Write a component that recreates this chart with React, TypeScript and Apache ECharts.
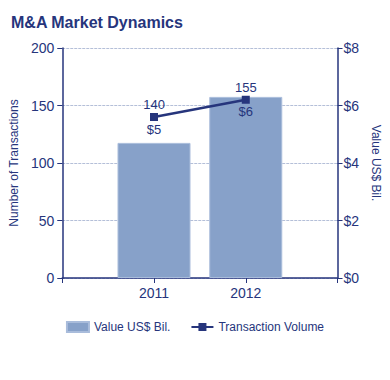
import React, { useEffect, useRef } from "react";
import * as echarts from "echarts";

const years = ["2011", "2012"];
const valueBil = [4.7, 6.3];
const transactions = [140, 155];
const leftTicks = [0, 50, 100, 150, 200];

const NAVY = "#26357c";
const BAR = "#87a1c9";

export default function App() {
  const ref = useRef<HTMLDivElement>(null);
  useEffect(() => {
    document.body.style.margin = "0";
    if (!ref.current) return;
    const chart = echarts.init(ref.current, undefined, { renderer: "svg" });
    const cats = ["", ...years, ""];
    const barData = [null, ...valueBil, null];
    const lineData = [null, ...transactions, null];
    chart.setOption({
      animation: false,
      textStyle: { fontFamily: "Liberation Sans, Arial, sans-serif" },
      title: {
        text: "M&A Market Dynamics",
        left: 6,
        top: 9,
        textStyle: { color: NAVY, fontSize: 16, fontWeight: "bold", fontFamily: "Liberation Sans, Arial, sans-serif" },
      },
      grid: { left: 60, right: 52, top: 48, bottom: 102 },
      legend: {
        bottom: 42,
        left: "center",
        itemGap: 20,
        itemWidth: 22,
        itemHeight: 10,
        textStyle: { color: NAVY, fontSize: 12 },
        data: [
          { name: "Value US$ Bil.", icon: "rect" },
          { name: "Transaction Volume" },
        ],
      },
      xAxis: {
        type: "category",
        data: cats,
        boundaryGap: false,
        axisLine: { lineStyle: { color: NAVY, width: 1.5 } },
        axisTick: { show: true, length: 5, inside: false, lineStyle: { color: NAVY } },
        axisLabel: { color: NAVY, fontSize: 14, margin: 8 },
        splitLine: { show: false },
      },
      yAxis: [
        {
          type: "value",
          min: leftTicks[0],
          max: leftTicks[leftTicks.length - 1],
          interval: 50,
          name: "Number of Transactions",
          nameLocation: "middle",
          nameGap: 34,
          nameTextStyle: { color: NAVY, fontSize: 12 },
          axisLine: { show: true, lineStyle: { color: NAVY, width: 1.5 } },
          axisTick: { show: true, length: 5, lineStyle: { color: NAVY } },
          axisLabel: { color: NAVY, fontSize: 14, margin: 8 },
          splitLine: { show: true, lineStyle: { color: "#b4bfd8", type: [3, 1], width: 1 } },
        },
        {
          type: "value",
          min: 0,
          max: 8,
          interval: 2,
          position: "right",
          name: "Value US$ Bil.",
          nameLocation: "middle",
          nameRotate: -90,
          nameGap: 32,
          nameTextStyle: { color: NAVY, fontSize: 12 },
          axisLine: { show: true, lineStyle: { color: NAVY, width: 1.5 } },
          axisTick: { show: true, length: 5, lineStyle: { color: NAVY } },
          axisLabel: { color: NAVY, fontSize: 14, margin: 6, formatter: (v: number) => "$" + v },
          splitLine: { show: false },
        },
      ],
      series: [
        {
          name: "Value US$ Bil.",
          type: "bar",
          yAxisIndex: 1,
          data: barData,
          barWidth: 73,
          itemStyle: { color: BAR, borderColor: "#a9bcdb", borderWidth: 1 },
        },
        {
          name: "Transaction Volume",
          type: "line",
          yAxisIndex: 0,
          data: lineData,
          connectNulls: true,
          symbol: "rect",
          symbolSize: 8,
          lineStyle: { color: NAVY, width: 2.5 },
          itemStyle: { color: NAVY },
          label: { show: true, position: "top", distance: 2, color: NAVY, fontSize: 13 },
        },
        {
          name: "valueLabels",
          type: "line",
          yAxisIndex: 0,
          data: lineData,
          connectNulls: true,
          symbol: "circle",
          symbolSize: 1,
          showSymbol: true,
          lineStyle: { opacity: 0 },
          itemStyle: { opacity: 0 },
          silent: true,
          z: 5,
          label: {
            show: true,
            position: "bottom",
            distance: 5,
            color: NAVY,
            fontSize: 13,
            opacity: 1,
            formatter: (p: any) => {
              const i = p.dataIndex - 1;
              return i >= 0 && i < valueBil.length ? "$" + Math.round(valueBil[i]) : "";
            },
          },
        },
      ],
    });
    return () => chart.dispose();
  }, []);
  return <div ref={ref} style={{ width: 390, height: 380 }} />;
}
